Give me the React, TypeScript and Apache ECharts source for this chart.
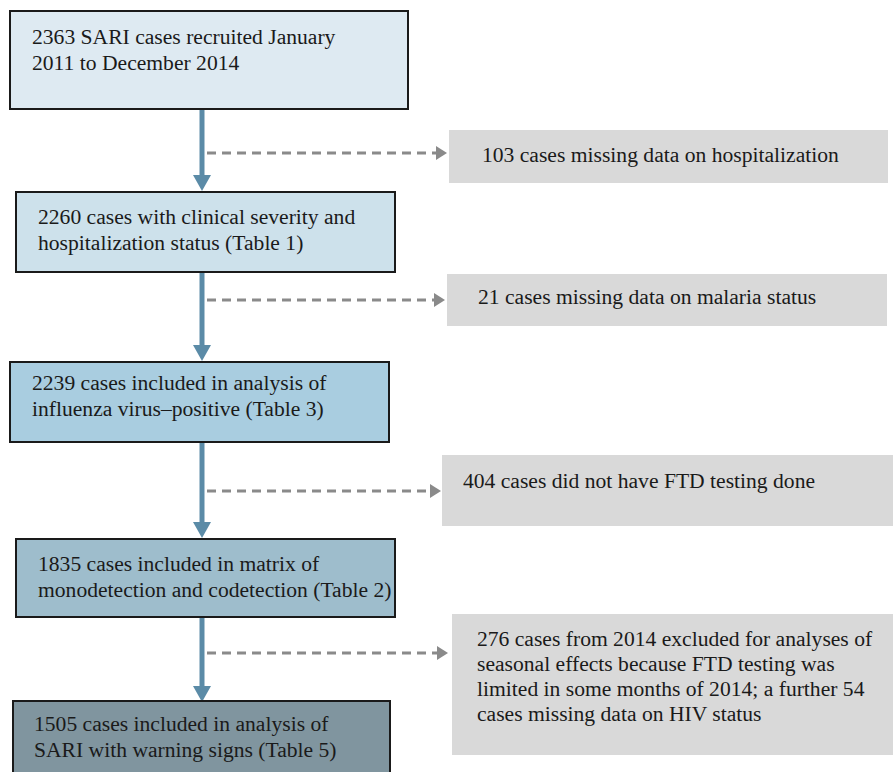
import React, { useEffect, useRef } from "react";
import * as echarts from "echarts";

// Main flow steps (case counts and descriptions)
const stepCounts = [2363, 2260, 2239, 1835, 1505];
const stepTexts = [
  "2363 SARI cases recruited January\n2011 to December 2014",
  "2260 cases with clinical severity and\nhospitalization status (Table 1)",
  "2239 cases included in analysis of\ninfluenza virus\u2013positive (Table 3)",
  "1835 cases included in matrix of\nmonodetection and codetection (Table 2)",
  "1505 cases included in analysis of\nSARI with warning signs (Table 5)",
];
// Exclusions between steps
const exclusionCounts = [103, 21, 404, 330];
const exclusionTexts = [
  "103 cases missing data on hospitalization",
  "21 cases missing data on malaria status",
  "404 cases did not have FTD testing done",
  "276 cases from 2014 excluded for analyses of\nseasonal effects because FTD testing was\nlimited in some months of 2014; a further 54\ncases missing data on HIV status",
];

// Layout (styling, not data)
const stepBoxes = [
  { x: 10, y: 11, w: 398, h: 98, tx: 32, ty: 37, fill: "#deeaf2" },
  { x: 16, y: 192, w: 379, h: 80, tx: 38, ty: 217, fill: "#cde1eb" },
  { x: 10, y: 362, w: 379, h: 80, tx: 32, ty: 383, fill: "#a9cde0" },
  { x: 16, y: 539, w: 379, h: 78, tx: 38, ty: 564, fill: "#9ebdcc" },
  { x: 13, y: 701, w: 377, h: 90, tx: 34, ty: 724, fill: "#80959f" },
];
const exclBoxes = [
  { x: 449, y: 130, w: 439, h: 53, tx: 482, ty: 155 },
  { x: 447, y: 274, w: 440, h: 52, tx: 478, ty: 297 },
  { x: 442, y: 455, w: 460, h: 71, tx: 463, ty: 481 },
  { x: 452, y: 614, w: 450, h: 141, tx: 477, ty: 639 },
];
const dashYs = [153, 300, 491, 653];
const dashEnds = [447, 445, 441, 448];

const FONT = "Liberation Serif";

export default function App() {
  const ref = useRef<HTMLDivElement>(null);
  useEffect(() => {
    document.body.style.margin = "0";
    const chart = echarts.init(ref.current!, undefined, { renderer: "svg" });
    const els: any[] = [];
    const ax = 202;
    const arrowColor = "#5b8ba7";
    for (let i = 0; i < stepBoxes.length - 1; i++) {
      const top = stepBoxes[i].y + stepBoxes[i].h;
      const tip = stepBoxes[i + 1].y - (i === 3 ? -1 : 1);
      els.push({
        type: "line",
        shape: { x1: ax, y1: top, x2: ax, y2: tip - 14 },
        style: { stroke: arrowColor, lineWidth: 5 },
      });
      els.push({
        type: "polygon",
        shape: { points: [[ax - 9, tip - 16], [ax + 9, tip - 16], [ax, tip]] },
        style: { fill: arrowColor },
      });
    }
    dashYs.forEach((y, i) => {
      const end = dashEnds[i];
      els.push({
        type: "line",
        shape: { x1: 207, y1: y, x2: end - 10, y2: y },
        style: { stroke: "#8a8a8a", lineWidth: 3, lineDash: [9, 6] },
      });
      els.push({
        type: "polygon",
        shape: { points: [[end - 11, y - 7], [end - 11, y + 7], [end, y]] },
        style: { fill: "#8a8a8a" },
      });
    });
    stepBoxes.forEach((b, i) => {
      els.push({
        type: "rect",
        shape: { x: b.x, y: b.y, width: b.w, height: b.h },
        style: { fill: b.fill, stroke: "#1a1a1a", lineWidth: 2 },
      });
      els.push({
        type: "text",
        x: b.tx,
        y: b.ty - 13,
        style: {
          text: stepTexts[i],
          fontFamily: FONT,
          fontSize: 21.6,
          fill: "#1a1a1a",
          lineHeight: 26,
          verticalAlign: "top",
        },
      });
    });
    exclBoxes.forEach((b, i) => {
      els.push({
        type: "rect",
        shape: { x: b.x, y: b.y, width: b.w, height: b.h },
        style: { fill: "#d9d9d9" },
      });
      els.push({
        type: "text",
        x: b.tx,
        y: b.ty - 12.5,
        style: {
          text: exclusionTexts[i],
          fontFamily: FONT,
          fontSize: 21.6,
          fill: "#1a1a1a",
          lineHeight: 25,
          verticalAlign: "top",
        },
      });
    });
    chart.setOption({
      animation: false,
      graphic: { elements: els },
    });
    return () => chart.dispose();
  }, []);
  return (
    <div
      ref={ref}
      data-counts={stepCounts.join(",") + "|" + exclusionCounts.join(",")}
      style={{ width: 893, height: 772, position: "absolute", left: 0, top: 0, background: "#fff" }}
    />
  );
}
